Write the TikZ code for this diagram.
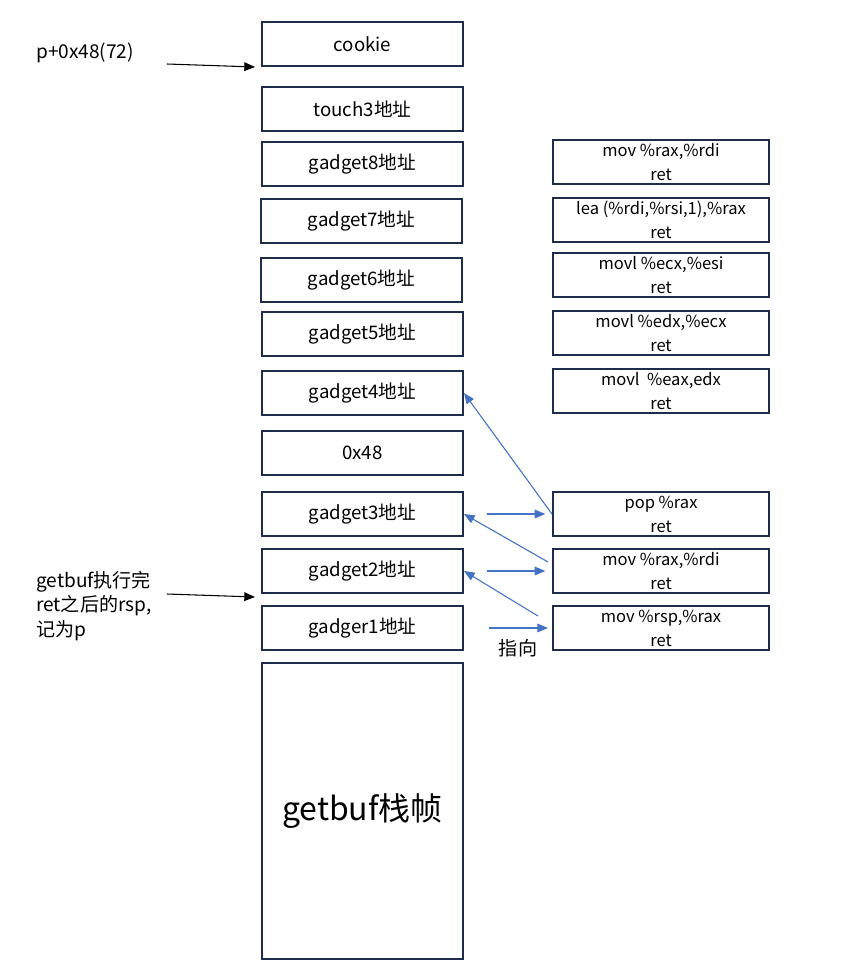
\documentclass[tikz,border=0pt]{standalone}
\usepackage{fontspec}
\setmainfont{Noto Sans CJK SC}
\usetikzlibrary{arrows.meta,calc}
\definecolor{boxline}{HTML}{1F2D4D}
\definecolor{arrblue}{HTML}{4472C4}
\tikzset{
  lbox/.style={draw=boxline, line width=1.5pt, minimum width=150.75pt, minimum height=33pt, inner sep=0pt, font=\fontsize{14}{16}\selectfont},
  rbox/.style={draw=boxline, line width=1.5pt, minimum width=162pt, minimum height=33pt, inner sep=0pt, align=center, font=\fontsize{12.4}{18}\selectfont},
  lbl/.style={inner sep=0pt, font=\fontsize{14.3}{18.4}\selectfont},
  barrow/.style={draw=arrblue, line width=0.8pt, -{Triangle[length=8pt,width=6.5pt]}},
  karrow/.style={draw=black, line width=0.8pt, -{Triangle[length=8pt,width=6.5pt]}}
}
\begin{document}
\begin{tikzpicture}[x=0.75pt,y=-0.75pt]
\useasboundingbox (0,0) rectangle (866,968);
% left stack
\node[lbox] (ck) at (362.5,44) {cookie};
\node[lbox] (t3) at (362.5,109) {touch3地址};
\node[lbox] (g8) at (362.5,164) {gadget8地址};
\node[lbox] (g7) at (361.5,221) {gadget7地址};
\node[lbox] (g6) at (361.5,280) {gadget6地址};
\node[lbox] (g5) at (362.5,334) {gadget5地址};
\node[lbox] (g4) at (362.5,393) {gadget4地址};
\node[lbox] (hx) at (362.5,453) {0x48};
\node[lbox] (g3) at (362.5,514) {gadget3地址};
\node[lbox] (g2) at (362.5,571) {gadget2地址};
\node[lbox] (g1) at (362.5,628) {gadger1地址};
\node[lbox, minimum height=222pt, font=\fontsize{24}{30}\selectfont] (gb) at (362.5,811) {getbuf栈帧};
% right boxes
\node[rbox] (r8) at (661,162) {mov \%rax,\%rdi\\ret};
\node[rbox] (r7) at (661,220) {lea (\%rdi,\%rsi,1),\%rax\\ret};
\node[rbox] (r6) at (661,275) {movl \%ecx,\%esi\\ret};
\node[rbox] (r5) at (661,333) {movl \%edx,\%ecx\\ret};
\node[rbox] (r4) at (661,391) {movl\ \ \%eax,edx\\ret};
\node[rbox] (pp) at (661,514) {pop \%rax\\ret};
\node[rbox] (m1) at (661,571) {mov \%rax,\%rdi\\ret};
\node[rbox] (m2) at (661,628) {mov \%rsp,\%rax\\ret};
% labels
\node[lbl, anchor=west] (lp) at (36,53) {p+0x48(72)};
\node[lbl, anchor=west, align=left] (lg) at (36,606) {getbuf执行完\\ret之后的rsp,\\记为p};
\node[lbl] (zx) at (518,648) {指向};
% black arrows
\coordinate (lpa) at (167,64);
\coordinate (lga) at (167,594);
\draw[karrow] (lpa) -- ($(ck.south west)+(-6,0)$);
\draw[karrow] (lga) -- ($(g2.south west)+(-6,3)$);
% blue horizontal arrows
\draw[barrow, shorten <=17pt, shorten >=5pt] (g3.east) -- (pp.west);
\draw[barrow, shorten <=17pt, shorten >=5pt] (g2.east) -- (m1.west);
\draw[barrow, shorten <=19pt, shorten >=3pt] (g1.east) -- (m2.west);
% blue diagonal arrows
\draw[barrow] (pp.west) -- (g4.east);
\draw[barrow] ($(m1.west)+(-4,-9)$) -- (g3.east);
\draw[barrow] ($(m2.west)+(-14,-12)$) -- (g2.east);
\end{tikzpicture}
\end{document}
